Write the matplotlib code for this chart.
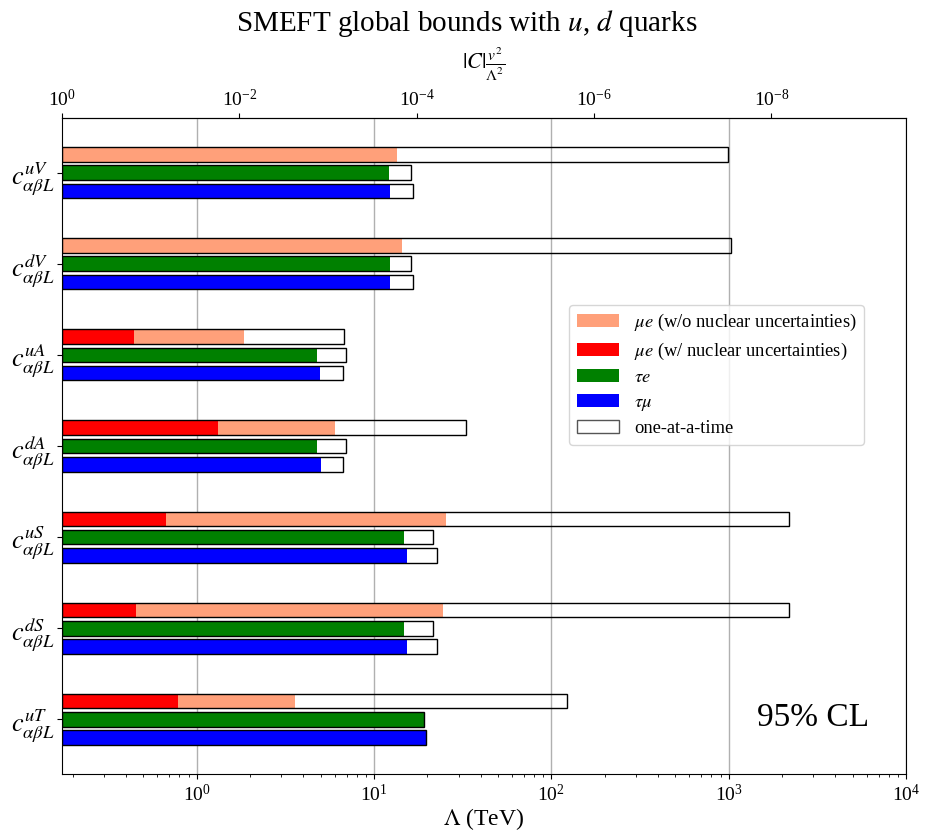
import numpy as np
import matplotlib
matplotlib.use("Agg")
import matplotlib.pyplot as plt
from matplotlib.patches import Patch
from matplotlib.ticker import NullLocator

plt.rcParams["font.family"] = "serif"
plt.rcParams["font.serif"] = ["Liberation Serif", "DejaVu Serif"]
plt.rcParams["mathtext.fontset"] = "stix"

v = 0.174  # TeV

operators = [r"$c^{uV}_{\alpha\beta L}$", r"$c^{dV}_{\alpha\beta L}$",
             r"$c^{uA}_{\alpha\beta L}$", r"$c^{dA}_{\alpha\beta L}$",
             r"$c^{uS}_{\alpha\beta L}$", r"$c^{dS}_{\alpha\beta L}$",
             r"$c^{uT}_{\alpha\beta L}$"]

# lower bounds on Lambda (TeV)
mue_nuc = [np.nan, np.nan, 0.443, 1.32, 0.672, 0.455, 0.785]
mue = [13.5, 14.4, 1.85, 6.03, 25.5, 24.5, 3.59]
mue_single = [988, 1033, 6.81, 33.2, 2183, 2183, 122]
taue = [12.2, 12.3, 4.78, 4.78, 14.8, 14.8, 19.2]
taue_single = [16.1, 16.1, 6.96, 6.96, 21.4, 21.4, 19.2]
taumu = [12.3, 12.3, 4.97, 5.03, 15.4, 15.4, 19.7]
taumu_single = [16.5, 16.5, 6.72, 6.72, 22.8, 22.8, 19.7]

fig = plt.figure(figsize=(9.33, 8.33), dpi=100)
ax = fig.add_axes([62 / 933, 1 - 774 / 833, 844 / 933, 656 / 833])

y = np.arange(len(operators))
dy = 0.2
h = 0.16

def bars(ypos, vals, color):
    vals = np.array(vals, dtype=float)
    ax.barh(ypos, vals - v, left=v, height=h, color=color, edgecolor="none", zorder=2)

bars(y - dy, mue, "lightsalmon")
bars(y - dy, mue_nuc, "red")
bars(y, taue, "green")
bars(y + dy, taumu, "blue")
for off, vals in [(-dy, mue_single), (0, taue_single), (dy, taumu_single)]:
    vals = np.array(vals, dtype=float)
    ax.barh(y + off, vals - v, left=v, height=h, facecolor="none",
            edgecolor="k", linewidth=1.0, zorder=3)

ax.set_xscale("log")
ax.set_xlim(v, 1e4)
ax.set_ylim(len(operators) - 0.4, -0.6)
ax.set_yticks(y)
ax.set_yticklabels(operators, fontsize=19)
ax.tick_params(axis="y", pad=2)
ax.tick_params(axis="x", labelsize=14)
ax.grid(axis="x", which="major", color="#b0b0b0", linewidth=1, zorder=0)
ax.set_axisbelow(True)
ax.set_xlabel(r"$\Lambda$ (TeV)", fontsize=17, labelpad=1)

sec = ax.secondary_xaxis("top", functions=(lambda L: (v / L) ** 2,
                                           lambda C: v / np.sqrt(C)))
sec.set_xticks([1, 1e-2, 1e-4, 1e-6, 1e-8])
sec.xaxis.set_minor_locator(NullLocator())
sec.tick_params(labelsize=14, pad=2)
sec.set_xlabel(r"$|C|\frac{v^2}{\Lambda^2}$", fontsize=16, labelpad=14)

fig.suptitle(r"SMEFT global bounds with $u$, $d$ quarks", fontsize=21, y=0.99)

handles = [Patch(facecolor="lightsalmon", label=r"$\mu e$ (w/o nuclear uncertainties)"),
           Patch(facecolor="red", label=r"$\mu e$ (w/ nuclear uncertainties)"),
           Patch(facecolor="green", label=r"$\tau e$"),
           Patch(facecolor="blue", label=r"$\tau\mu$"),
           Patch(facecolor="white", edgecolor="#555555", label="one-at-a-time")]
ax.legend(handles=handles, loc="upper left", bbox_to_anchor=(0.601, 0.715),
          borderaxespad=0, fontsize=13.3, handlelength=2.3, labelspacing=0.4,
          framealpha=0.8)

ax.text(0.89, 0.085, "95% CL", transform=ax.transAxes, fontsize=24,
        ha="center", va="center")

fig.savefig("out.png", dpi=100)
